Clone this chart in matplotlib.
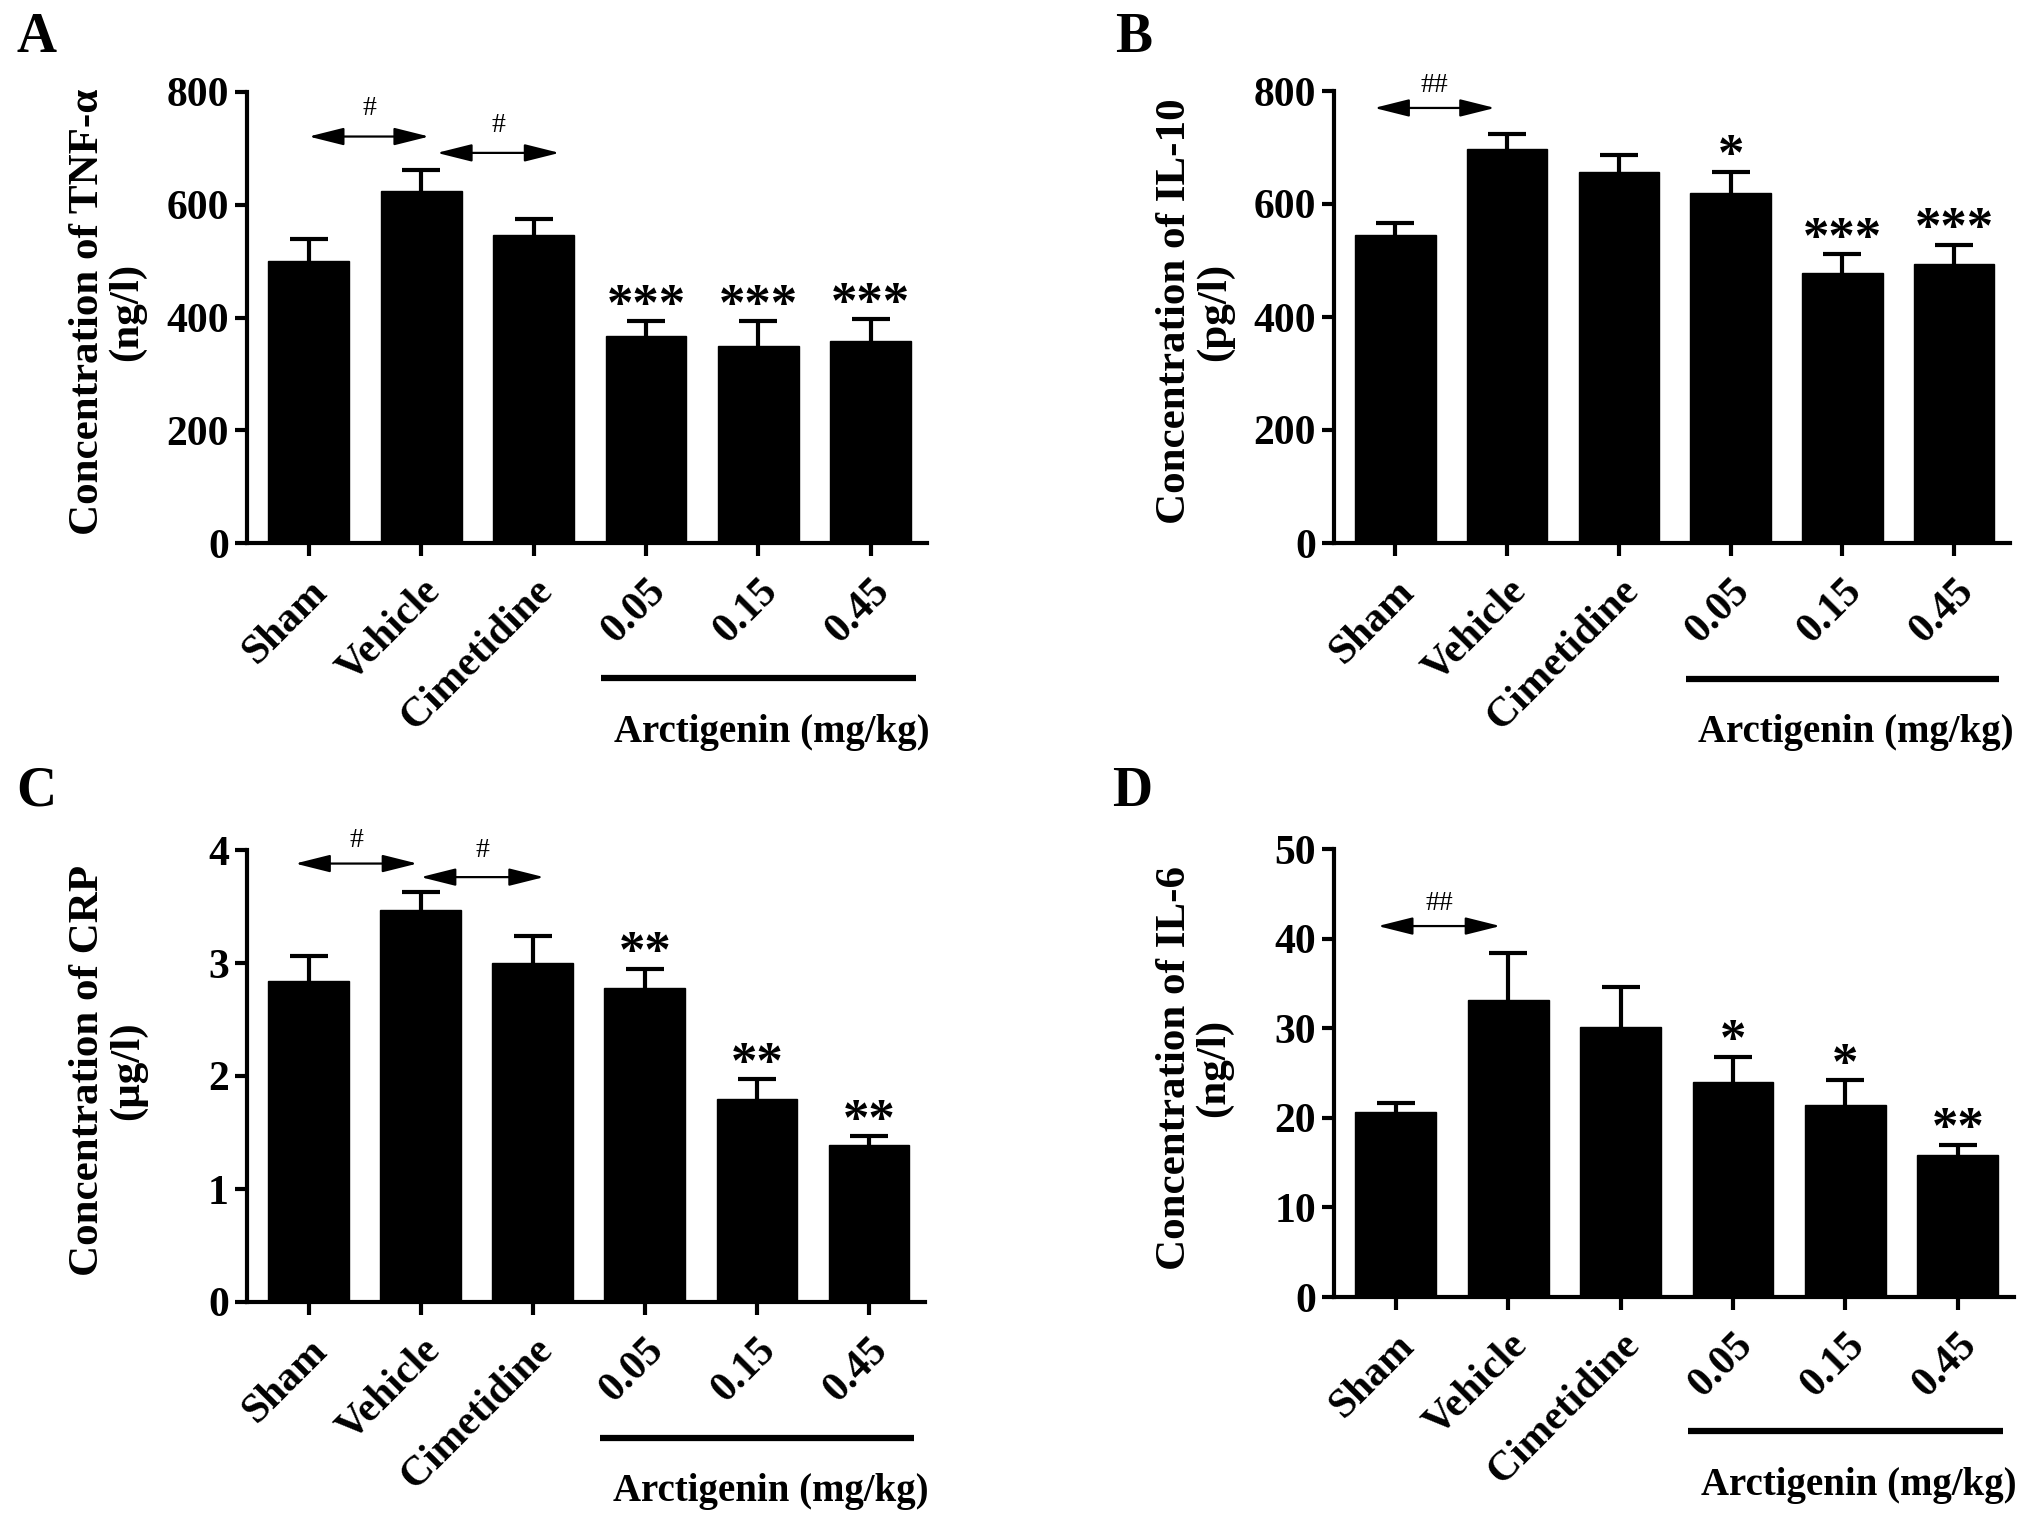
import matplotlib
matplotlib.use('Agg')
import matplotlib.pyplot as plt
import matplotlib.transforms as mtransforms

plt.rcParams['font.family'] = ['Liberation Serif', 'DejaVu Serif']
plt.rcParams['font.weight'] = 'bold'

# Datos
groups = ['Sham', 'Vehicle', 'Cimetidine', '0.05', '0.15', '0.45']

tnf_mean = [501, 625, 547, 367, 350, 358]
tnf_sem = [39, 37, 27, 26, 43, 39]
tnf_stars = ['', '', '', '***', '***', '***']

il10_mean = [546, 697, 657, 619, 477, 494]
il10_sem = [21, 27, 30, 38, 34, 34]
il10_stars = ['', '', '', '*', '***', '***']

crp_mean = [2.84, 3.47, 3.00, 2.78, 1.80, 1.39]
crp_sem = [0.22, 0.16, 0.24, 0.17, 0.17, 0.08]
crp_stars = ['', '', '', '**', '**', '**']

il6_mean = [20.7, 33.2, 30.1, 24.0, 21.4, 15.8]
il6_sem = [0.9, 5.2, 4.5, 2.8, 2.8, 1.2]
il6_stars = ['', '', '', '*', '*', '**']

# flechas de comparacion: (x inicio, x fin, y flecha, etiqueta, y etiqueta)
tnf_arrows = [(0.0, 1.07, 721, '#', 770), (1.14, 2.23, 692, '#', 740)]
il10_arrows = [(-0.19, 0.89, 770, '##', 810)]
crp_arrows = [(-0.12, 0.97, 3.88, '#', 4.08), (1.0, 2.1, 3.76, '#', 4.0)]
il6_arrows = [(-0.16, 0.93, 41.4, '##', 43.9)]

W, H = 2031, 1521
fig = plt.figure(figsize=(W / 100, H / 100), dpi=100)


def px_axes(left, top, right, bottom):
    return fig.add_axes([left / W, 1 - bottom / H, (right - left) / W, (bottom - top) / H])


def panel(ax, means, sems, stars, arrows, ymax, yticks, ylabel):
    x = list(range(len(groups)))
    ax.bar(x, means, width=0.72, color='black', edgecolor='black', zorder=2)
    _, caps, _ = ax.errorbar(x, means, yerr=[[0] * len(sems), sems], fmt='none',
                             ecolor='black', elinewidth=3, capsize=14, capthick=3,
                             zorder=1)
    caps[0].set_visible(False)  # sin tapa inferior
    ax.set_xlim(-0.55, 5.5)
    ax.set_ylim(0, ymax)
    ax.set_yticks(yticks)
    ax.set_xticks(x)
    ax.set_xticklabels(groups, rotation=45, ha='right', rotation_mode='anchor')
    for s in ['top', 'right']:
        ax.spines[s].set_visible(False)
    for s in ['left', 'bottom']:
        ax.spines[s].set_linewidth(3)
    ax.tick_params(axis='both', direction='out', length=9, width=3, labelsize=30, pad=4)
    ax.tick_params(axis='x', pad=12)
    for lab in ax.get_xticklabels() + ax.get_yticklabels():
        lab.set_fontweight('bold')

    ax.text(-0.205, 0.512, ylabel, transform=ax.transAxes, rotation=90, ha='center',
            va='center', fontsize=31, fontweight='bold', linespacing=1.05,
            multialignment='center')

    # asteriscos de significancia
    for xi, m, e, st in zip(x, means, sems, stars):
        if st:
            ax.annotate(st, (xi, m + e), xytext=(0, 1), textcoords='offset points',
                        ha='center', va='baseline', fontsize=38, fontweight='bold')

    for x0, x1, ya, lab, yl in arrows:
        ax.annotate('', xy=(x1, ya), xytext=(x0, ya),
                    arrowprops=dict(arrowstyle='<|-|>,head_length=1.2,head_width=0.3',
                                    lw=1.6, color='black', shrinkA=0, shrinkB=0,
                                    mutation_scale=18))
        ax.text((x0 + x1) / 2, yl, lab, ha='center', va='center', fontsize=20,
                fontweight='normal')

    # linea de grupo Arctigenin
    trans = mtransforms.blended_transform_factory(ax.transData, ax.transAxes)
    ax.plot([2.6, 5.4], [-0.30, -0.30], color='black', lw=4.5, transform=trans,
            clip_on=False, solid_capstyle='butt')
    ax.text(4.12, -0.42, 'Arctigenin (mg/kg)', transform=trans, ha='center',
            va='center', fontsize=28, fontweight='bold')


axA = px_axes(247, 92, 927, 543)
panel(axA, tnf_mean, tnf_sem, tnf_stars, tnf_arrows, 800, [0, 200, 400, 600, 800],
      'Concentration of TNF-\u03b1\n(ng/l)')

axB = px_axes(1334, 91, 2010, 543)
panel(axB, il10_mean, il10_sem, il10_stars, il10_arrows, 800, [0, 200, 400, 600, 800],
      'Concentration of IL-10\n(pg/l)')

axC = px_axes(247, 850, 925, 1302)
panel(axC, crp_mean, crp_sem, crp_stars, crp_arrows, 4, [0, 1, 2, 3, 4],
      'Concentration of CRP\n(\u03bcg/l)')

axD = px_axes(1334, 849, 2014, 1297)
panel(axD, il6_mean, il6_sem, il6_stars, il6_arrows, 50, [0, 10, 20, 30, 40, 50],
      'Concentration of IL-6\n(ng/l)')

for lab, xp, yp in [('A', 37, 38), ('B', 1134, 38), ('C', 36, 792), ('D', 1132, 792)]:
    fig.text(xp / W, 1 - yp / H, lab, ha='center', va='center', fontsize=40,
             fontweight='bold')

fig.savefig('out.png', dpi=100)
